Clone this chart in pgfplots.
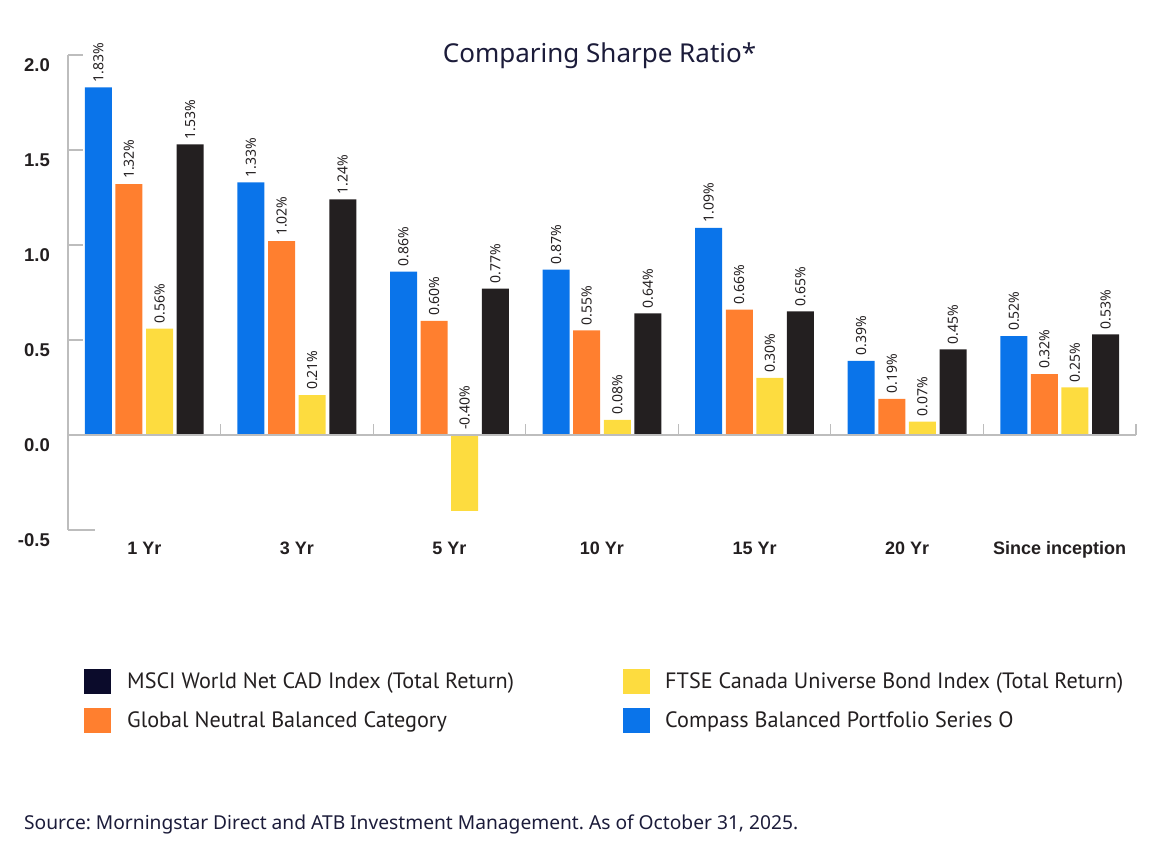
\documentclass[border=0pt]{standalone}
\usepackage{pgfplots}
\pgfplotsset{compat=1.18}
\usepackage{pgfplotstable}
\usepackage{fontspec}
\setmainfont{Liberation Sans}
\newfontfamily\titlefont{Noto Sans}
\newfontfamily\legfont{PT Sans}
\frenchspacing

\definecolor{cblue}{HTML}{0A74EA}
\definecolor{corange}{HTML}{FF7F2F}
\definecolor{cyellow}{HTML}{FDDC3F}
\definecolor{cblack}{HTML}{231F20}
\definecolor{cnavy}{HTML}{0B0B2B}
\definecolor{ctext}{HTML}{1C1C3A}
\definecolor{caxis}{HTML}{BDBDBD}

% Sharpe ratio per period
\pgfplotstableread{
x compass global ftse msci
0 1.83 1.32 0.56 1.53
1 1.33 1.02 0.21 1.24
2 0.86 0.60 -0.40 0.77
3 0.87 0.55 0.08 0.64
4 1.09 0.66 0.30 0.65
5 0.39 0.19 0.07 0.45
6 0.52 0.32 0.25 0.53
}\sharpe

\begin{document}
\begin{tikzpicture}
\path[use as bounding box] (0bp,0bp) rectangle (1155bp,863bp);

\begin{axis}[
  at={(68bp,333bp)}, anchor=south west,
  scale only axis, width=1068bp, height=475bp,
  xmin=-0.5, xmax=6.5, ymin=-0.5, ymax=2,
  ybar=3.6bp, bar width=27bp,
  axis line style={draw=none}, major tick length=0pt,
  xtick={0,...,6},
  xticklabels={1 Yr,3 Yr,5 Yr,10 Yr,15 Yr,20 Yr,Since inception},
  ytick={-0.5,0,0.5,1,1.5,2},
  yticklabels={-0.5,0.0,0.5,1.0,1.5,2.0},
  xticklabel style={font=\fontsize{18bp}{20bp}\selectfont\bfseries, text=cblack, anchor=base, inner sep=0pt, yshift=-25bp},
  yticklabel style={font=\fontsize{18.5bp}{20bp}\selectfont\bfseries, text=cblack, anchor=base east, inner sep=0pt, xshift=-18bp, yshift=-17bp},
  point meta=explicit symbolic,
  visualization depends on={rawy \as \rawy},
  nodes near coords={\pgfplotspointmeta\%},
  every node near coord/.append style={yshift={max(0,-1*(\rawy))*190.7125}, rotate=90, anchor=west,
    inner xsep=5bp, inner ysep=0pt, font=\titlefont\fontsize{14bp}{16bp}\selectfont, text=cblack},
  clip=false,
]
\addplot[fill=cblue, draw=none] table[x=x, y=compass, meta=compass]{\sharpe};
\addplot[fill=corange, draw=none] table[x=x, y=global, meta=global]{\sharpe};
\addplot[fill=cyellow, draw=none] table[x=x, y=ftse, meta=ftse]{\sharpe};
\addplot[fill=cblack, draw=none] table[x=x, y=msci, meta=msci]{\sharpe};

% axis lines and small marks
\draw[caxis, line width=1.2bp] (axis cs:-0.5,-0.5) -- (axis cs:-0.5,2);
\draw[caxis, line width=1.2bp] (axis cs:-0.5,0) -- (axis cs:6.5,0);
\draw[caxis, line width=1.2bp] (axis cs:-0.5,-0.5) -- (axis cs:-0.323,-0.5);
\pgfplotsinvokeforeach{0.5,1,1.5,2}{
  \draw[caxis, line width=1.2bp] (axis cs:-0.5,#1) -- (axis cs:-0.4017,#1);
}
\pgfplotsinvokeforeach{0.5,1.5,2.5,3.5,4.5,5.5,6.5}{
  \draw[caxis, line width=1.2bp] (axis cs:#1,0) -- (axis cs:#1,0.058);
}
\end{axis}

% title
\node[anchor=base, inner sep=0pt, text=ctext, font=\titlefont\fontsize{26bp}{29bp}\selectfont]
  at (599.5bp,800bp) {Comparing Sharpe Ratio*};

% legend
\fill[cnavy] (84bp,169bp) rectangle (111bp,194bp);
\node[anchor=base west, inner sep=0pt, text=cblack, font=\legfont\fontsize{22.2bp}{25bp}\selectfont]
  at (127bp,174bp) {MSCI World Net CAD Index (Total Return)};
\fill[corange] (84bp,130bp) rectangle (111bp,155bp);
\node[anchor=base west, inner sep=0pt, text=cblack, font=\legfont\fontsize{22.2bp}{25bp}\selectfont]
  at (127bp,135.5bp) {Global Neutral Balanced Category};
\fill[cyellow] (623bp,169bp) rectangle (650bp,194bp);
\node[anchor=base west, inner sep=0pt, text=cblack, font=\legfont\fontsize{22.2bp}{25bp}\selectfont]
  at (665bp,174bp) {FTSE Canada Universe Bond Index (Total Return)};
\fill[cblue] (623bp,130bp) rectangle (650bp,155bp);
\node[anchor=base west, inner sep=0pt, text=cblack, font=\legfont\fontsize{22.2bp}{25bp}\selectfont]
  at (665bp,135.5bp) {Compass Balanced Portfolio Series O};

% source
\node[anchor=base west, inner sep=0pt, text=ctext, font=\titlefont\fontsize{19.2bp}{21bp}\selectfont]
  at (24bp,34bp) {Source: Morningstar Direct and ATB Investment Management. As of October 31, 2025.};
\end{tikzpicture}
\end{document}
